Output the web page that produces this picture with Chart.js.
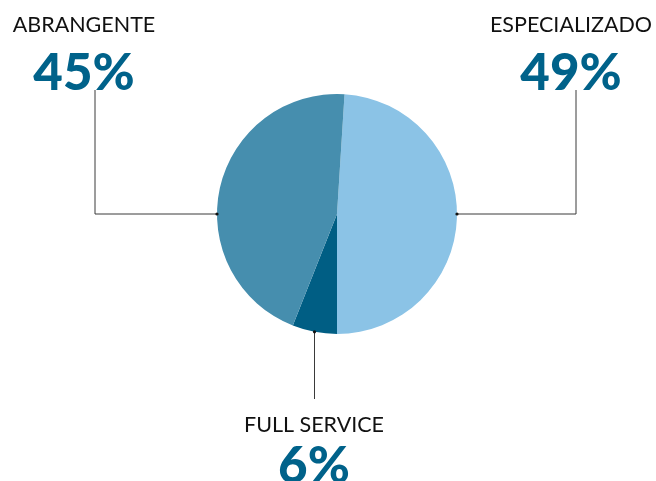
<!DOCTYPE html>
<html>
<head>
<meta charset="utf-8">
<script src="https://cdn.jsdelivr.net/npm/chart.js@4/dist/chart.umd.min.js"></script>
<style>
  html, body { margin: 0; padding: 0; background: #fff; }
  #wrap { width: 656px; height: 481px; }
</style>
</head>
<body>
<div id="wrap"><canvas id="pieChart" width="656" height="481"></canvas></div>
<script>
// data
const categories = ['ESPECIALIZADO', 'FULL SERVICE', 'ABRANGENTE'];
const shares = [49, 6, 45];
const sliceColors = ['#8bc3e6', '#005e84', '#468eae'];

// where each label block sits (text anchor, gap to the big number, elbow of the leader line)
const labelBoxes = {
    'ABRANGENTE':    { x: 84,  y: 32,  gap: 58, side: 'left',   elbowX: 95 },
    'ESPECIALIZADO': { x: 571, y: 32,  gap: 58, side: 'right',  elbowX: 576 },
    'FULL SERVICE':  { x: 314, y: 432, gap: 51, side: 'bottom', elbowY: 399 }
};

const calloutPlugin = {
    id: 'callouts',
    afterDraw(chart) {
        const ctx = chart.ctx;
        const arcs = chart.getDatasetMeta(0).data;
        ctx.save();
        arcs.forEach((arc, i) => {
            const name = categories[i];
            const box = labelBoxes[name];
            const cx = arc.x, cy = arc.y, r = arc.outerRadius;
            let pts;
            if (box.side === 'left') {
                pts = [[box.elbowX, box.y + box.gap], [box.elbowX, cy], [cx - r, cy]];
            } else if (box.side === 'right') {
                pts = [[box.elbowX, box.y + box.gap], [box.elbowX, cy], [cx + r, cy]];
            } else {
                const mid = (arc.startAngle + arc.endAngle) / 2;
                const ax = cx + r * Math.cos(mid), ay = cy + r * Math.sin(mid);
                pts = [[ax, box.elbowY], [ax, ay]];
            }
            ctx.strokeStyle = '#3a3a3a';
            ctx.lineWidth = 1;
            ctx.beginPath();
            pts.forEach((p, k) => k ? ctx.lineTo(p[0], p[1]) : ctx.moveTo(p[0], p[1]));
            ctx.stroke();
            const end = pts[pts.length - 1];
            ctx.fillStyle = '#111';
            ctx.beginPath();
            ctx.arc(end[0], end[1], 1.6, 0, Math.PI * 2);
            ctx.fill();

            ctx.textAlign = 'center';
            ctx.textBaseline = 'alphabetic';
            ctx.fillStyle = '#111';
            ctx.font = '21.5px Lato';
            ctx.fillText(name, box.x, box.y);
            ctx.fillStyle = '#00628a';
            ctx.font = '900 51px Lato';
            ctx.fillText(shares[i] + '%', box.x, box.y + box.gap);
        });
        ctx.restore();
    }
};

new Chart(document.getElementById('pieChart'), {
    type: 'pie',
    data: {
        labels: categories,
        datasets: [{
            data: shares,
            backgroundColor: sliceColors,
            borderWidth: 0
        }]
    },
    options: {
        responsive: false,
        animation: false,
        rotation: 3.6,
        layout: { padding: { left: 217, right: 199, top: 94, bottom: 147 } },
        plugins: {
            legend: { display: false },
            tooltip: { enabled: false }
        }
    },
    plugins: [calloutPlugin]
});
</script>
</body>
</html>
